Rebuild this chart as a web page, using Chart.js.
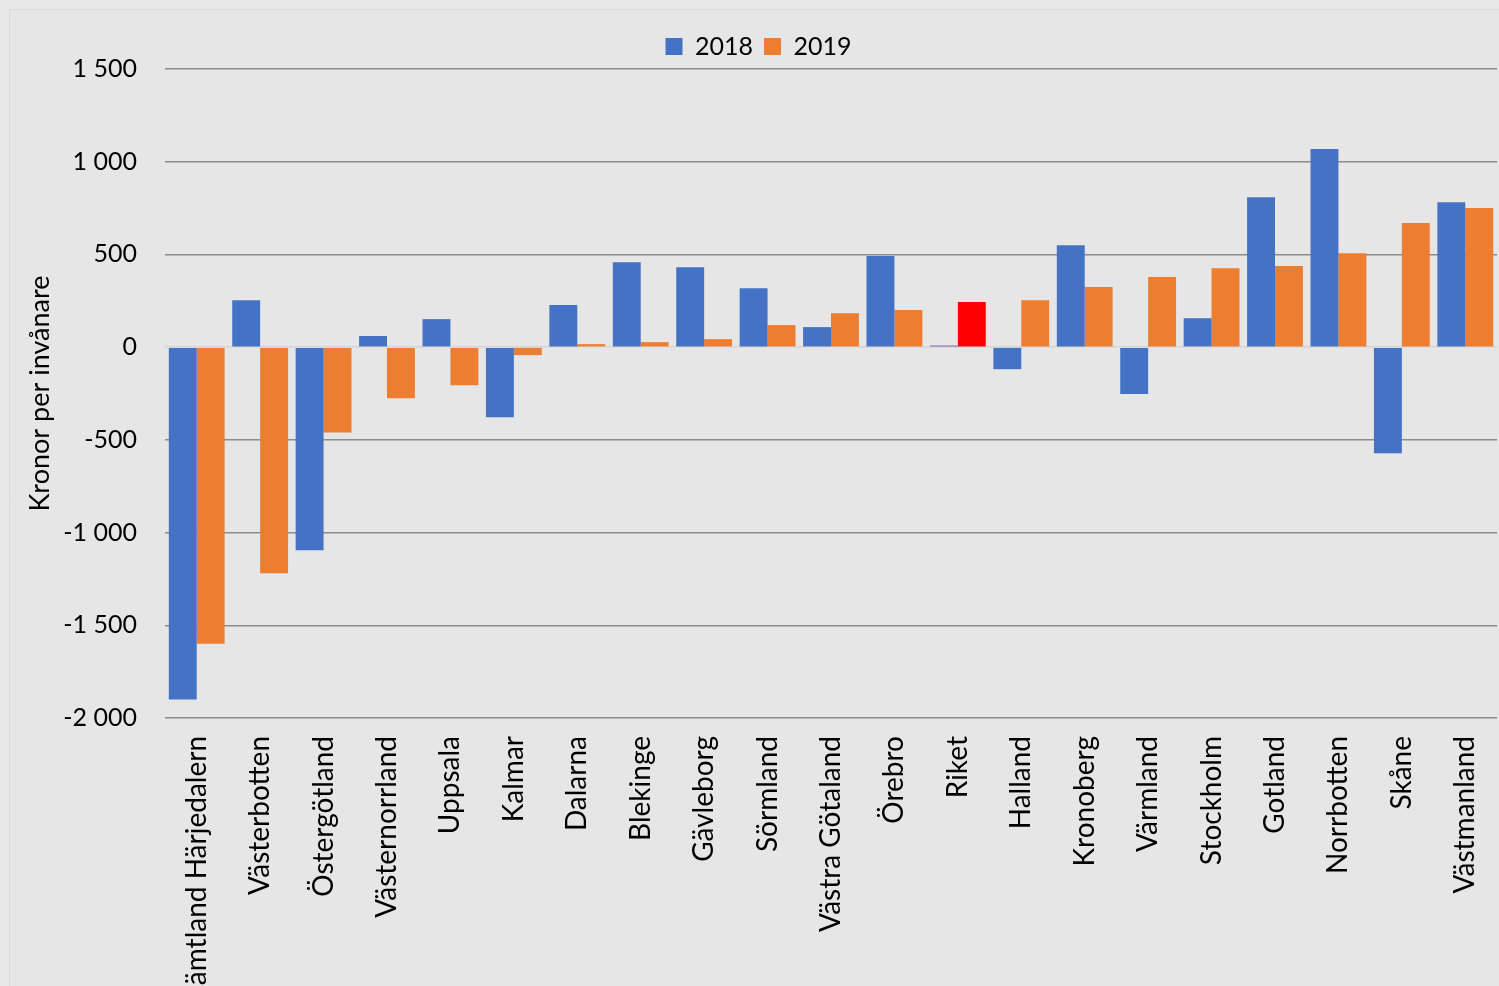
<!DOCTYPE html>
<html>
<head>
<meta charset="utf-8">
<script src="https://cdn.jsdelivr.net/npm/chart.js@4"></script>
<style>
  body { margin: 0; background: #e8e8e8; }
  canvas { display: block; }
</style>
</head>
<body>
<canvas id="c" width="1499" height="986"></canvas>
<script>
const regions = ["Jämtland Härjedalern", "Västerbotten", "Östergötland", "Västernorrland", "Uppsala",
  "Kalmar", "Dalarna", "Blekinge", "Gävleborg", "Sörmland", "Västra Götaland", "Örebro", "Riket",
  "Halland", "Kronoberg", "Värmland", "Stockholm", "Gotland", "Norrbotten", "Skåne", "Västmanland"];
const values2018 = [-1900, 253, -1095, 60, 151, -378, 227, 458, 431, 318, 108, 491, 8,
  -119, 550, -253, 156, 809, 1068, -572, 782];
const values2019 = [-1600, -1220, -460, -275, -205, -43, 16, 27, 43, 119, 183, 200, 243,
  253, 324, 378, 426, 437, 507, 669, 750];
const yTicks = [-2000, -1500, -1000, -500, 0, 500, 1000, 1500];

const BLUE = "#4472C4", ORANGE = "#ED7D31";
const FONT = "Lato";

// thousands with a space, like "1 500"
const fmt = v => {
  const s = Math.abs(v).toString().replace(/\B(?=(\d{3})+(?!\d))/g, " ");
  return (v < 0 ? "-" : "") + s;
};

const bg = {
  id: "bg",
  beforeDraw(chart) {
    const { ctx, width, height } = chart;
    ctx.save();
    ctx.fillStyle = "#e8e8e8";
    ctx.fillRect(0, 0, width, height);
    ctx.fillStyle = "#e6e6e6";
    ctx.fillRect(9, 9, width - 9, height - 9);
    ctx.strokeStyle = "#d9d9d9";
    ctx.lineWidth = 1;
    ctx.beginPath();
    ctx.moveTo(9.5, height);
    ctx.lineTo(9.5, 9.5);
    ctx.lineTo(width, 9.5);
    ctx.stroke();
    ctx.restore();
  }
};

new Chart(document.getElementById("c"), {
  type: "bar",
  data: {
    labels: regions,
    datasets: [
      { label: "2018", data: values2018,
        backgroundColor: regions.map(r => r === "Riket" ? "#7030A0" : BLUE) },
      { label: "2019", data: values2019,
        backgroundColor: regions.map(r => r === "Riket" ? "#FF0000" : ORANGE) }
    ]
  },
  options: {
    responsive: false,
    animation: false,
    categoryPercentage: 0.88,
    barPercentage: 1,
    layout: { padding: { left: 20, right: 2, top: 23, bottom: 0 } },
    plugins: {
      legend: {
        position: "top",
        labels: {
          color: "#000",
          font: { family: FONT, size: 25 },
          boxWidth: 17, boxHeight: 17,
          padding: 11,
          generateLabels: chart => chart.data.datasets.map((d, i) => ({
            text: d.label, fillStyle: i === 0 ? BLUE : ORANGE, strokeStyle: "transparent",
            lineWidth: 0, datasetIndex: i, fontColor: "#000"
          }))
        }
      },
      tooltip: { enabled: false }
    },
    scales: {
      x: {
        grid: { display: false, drawTicks: false },
        border: { display: false },
        ticks: {
          color: "#000",
          font: { family: FONT, size: 28 },
          minRotation: 90, maxRotation: 90,
          autoSkip: false,
          padding: 18
        },
        afterFit: s => { s.height = 268; s.paddingLeft = 0; s.paddingRight = 0; }
      },
      y: {
        min: -2000, max: 1500,
        afterBuildTicks: s => { s.ticks = yTicks.map(v => ({ value: v })); },
        grid: {
          drawTicks: false,
          color: c => c.tick && c.tick.value === 0 ? "#d4d4d4" : "#8c8c8c",
          lineWidth: 1.5
        },
        border: { display: false },
        ticks: {
          color: "#000",
          font: { family: FONT, size: 25 },
          padding: 28,
          callback: v => fmt(v)
        },
        title: {
          display: true,
          text: "Kronor per invånare",
          color: "#000",
          font: { family: FONT, size: 27 },
          padding: { top: 4, bottom: 4 }
        },
        afterFit: s => { s.width = 145; }
      }
    }
  },
  plugins: [bg]
});
</script>
</body>
</html>
